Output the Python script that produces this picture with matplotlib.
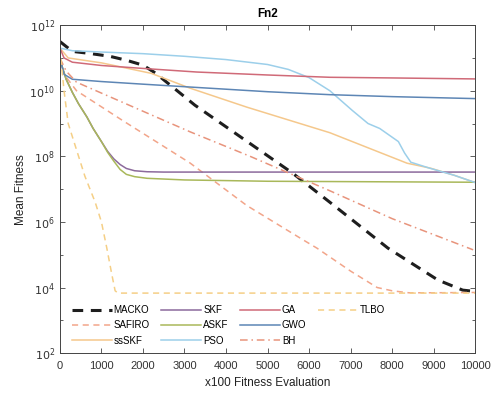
import numpy as np
import matplotlib
matplotlib.use("Agg")
import matplotlib.pyplot as plt
from matplotlib.lines import Line2D
from matplotlib.ticker import FixedLocator, FuncFormatter, NullFormatter

plt.rcParams['font.family'] = ['Liberation Sans', 'DejaVu Sans']

# Mean fitness (log10) at selected evaluation counts (x100)
macko_it = [0, 300, 700, 1200, 1600, 2000, 2300, 2600, 2950, 3250, 4250, 5600, 6500, 7900, 9100, 9700, 10000]
macko_lg = [11.5, 11.2, 11.14, 11.05, 10.93, 10.78, 10.54, 10.23, 9.87, 9.56, 8.68, 7.49, 6.6, 5.2, 4.23, 3.92, 3.88]

safiro_it = [0, 100, 400, 1500, 3130, 4500, 5860, 6190, 7000, 7640, 8000, 8400, 9000, 10000]
safiro_lg = [11.0, 10.5, 10.0, 9.1, 7.8, 6.5, 5.45, 5.2, 4.5, 4.0, 3.9, 3.84, 3.84, 3.85]

sskf_it = [0, 200, 1000, 2200, 3130, 4500, 6500, 8360, 8920, 9500, 10000]
sskf_lg = [11.3, 11.0, 10.85, 10.53, 10.08, 9.5, 8.72, 7.79, 7.64, 7.42, 7.2]

skf_it = [0, 50, 150, 300, 450, 650, 800, 1000, 1150, 1300, 1450, 1600, 1800, 2100, 2500, 10000]
skf_lg = [11.0, 10.75, 10.35, 9.95, 9.6, 9.2, 8.85, 8.45, 8.15, 7.92, 7.75, 7.63, 7.56, 7.53, 7.52, 7.52]

askf_it = [0, 50, 150, 300, 450, 650, 800, 1000, 1150, 1300, 1450, 1600, 1800, 2100, 3000, 5000, 10000]
askf_lg = [11.0, 10.75, 10.35, 9.95, 9.6, 9.2, 8.85, 8.45, 8.12, 7.85, 7.6, 7.45, 7.38, 7.33, 7.28, 7.24, 7.21]

pso_it = [0, 300, 1000, 2000, 3000, 4000, 5000, 5500, 6000, 6500, 7040, 7420, 7700, 8150, 8300, 8450, 8900, 9500, 10000]
pso_lg = [11.3, 11.22, 11.18, 11.13, 11.05, 10.95, 10.8, 10.65, 10.4, 10.0, 9.4, 9.0, 8.85, 8.45, 8.1, 7.82, 7.64, 7.42, 7.2]

ga_it = [0, 100, 300, 1000, 2000, 3300, 5000, 6500, 8000, 10000]
ga_lg = [11.3, 11.0, 10.87, 10.77, 10.68, 10.57, 10.48, 10.41, 10.39, 10.36]

gwo_it = [0, 100, 300, 1000, 2000, 3300, 5000, 6500, 8000, 10000]
gwo_lg = [11.0, 10.5, 10.35, 10.28, 10.2, 10.1, 9.97, 9.88, 9.82, 9.76]

bh_it = [0, 150, 400, 3130, 4580, 6500, 8000, 9950]
bh_lg = [11.0, 10.6, 10.26, 8.75, 8.0, 6.95, 6.1, 5.15]

tlbo_it = [0, 100, 200, 400, 600, 850, 1000, 1130, 1250, 1330, 1400, 10000]
tlbo_lg = [11.3, 10.0, 9.0, 8.2, 7.4, 6.6, 6.0, 5.2, 4.4, 3.9, 3.83, 3.83]

series = [
    ("MACKO", macko_it, macko_lg, dict(color="#1e1e1e", ls=(0, (3.5, 2.5)), lw=2.2)),
    ("SAFIRO", safiro_it, safiro_lg, dict(color="#f2a58a", ls=(0, (4, 3)), lw=1.1)),
    ("ssSKF", sskf_it, sskf_lg, dict(color="#f5c88c", ls="-", lw=1.1)),
    ("SKF", skf_it, skf_lg, dict(color="#8c6a9c", ls="-", lw=1.1)),
    ("ASKF", askf_it, askf_lg, dict(color="#a9b85a", ls="-", lw=1.1)),
    ("PSO", pso_it, pso_lg, dict(color="#9ccfea", ls="-", lw=1.1)),
    ("GA", ga_it, ga_lg, dict(color="#d06a78", ls="-", lw=1.1)),
    ("GWO", gwo_it, gwo_lg, dict(color="#5d86b5", ls="-", lw=1.1)),
    ("BH", bh_it, bh_lg, dict(color="#e8947c", ls=(0, (5, 2.5, 1, 2.5)), lw=1.1)),
    ("TLBO", tlbo_it, tlbo_lg, dict(color="#f5cf86", ls=(0, (4, 3)), lw=1.1)),
]

fig = plt.figure(figsize=(4.95, 3.99), dpi=100)
ax = fig.add_axes([0.121, 0.115, 0.839, 0.822])

handles = []
for name, it, lg, style in series:
    h, = ax.plot(it, 10.0 ** np.array(lg), label=name, **style)
    handles.append(h)

ax.set_yscale("log")
ax.set_xlim(0, 10000)
ax.set_ylim(1e2, 1e12)
ax.set_xticks(np.arange(0, 10001, 1000))
ax.yaxis.set_major_locator(FixedLocator([1e2, 1e4, 1e6, 1e8, 1e10, 1e12]))
ax.yaxis.set_minor_locator(FixedLocator([1e3, 1e5, 1e7, 1e9, 1e11]))
ax.yaxis.set_minor_formatter(NullFormatter())
ax.yaxis.set_major_formatter(FuncFormatter(lambda v, p: r"$10^{%d}$" % round(np.log10(v))))

ax.tick_params(which="both", direction="in", top=True, right=True,
               colors="#444444", labelcolor="#333333", labelsize=8, width=0.6)
ax.tick_params(which="major", length=3.5)
ax.tick_params(axis="x", pad=6)
ax.tick_params(which="minor", length=2)
for s in ax.spines.values():
    s.set_color("#444444")
    s.set_linewidth(0.7)

ax.set_title("Fn2", fontsize=8.5, fontweight="bold", pad=6)
ax.set_xlabel("x100 Fitness Evaluation", fontsize=8.5, color="#222222", labelpad=4)
ax.set_ylabel("Mean Fitness", fontsize=8.5, color="#222222", labelpad=2)

# blank entries so the legend columns hold 3, 3, 3 and 1 items
blank = Line2D([], [], color="none")
leg_handles = handles + [blank, blank]
leg_labels = [s[0] for s in series] + ["", ""]
ax.legend(leg_handles, leg_labels, ncol=4, loc="lower left",
          bbox_to_anchor=(0.012, 0.002), frameon=False, fontsize=7,
          handlelength=4.1, handletextpad=0.2, columnspacing=1.2,
          labelspacing=0.55, borderaxespad=0.3)

fig.savefig("out.png", dpi=100)
